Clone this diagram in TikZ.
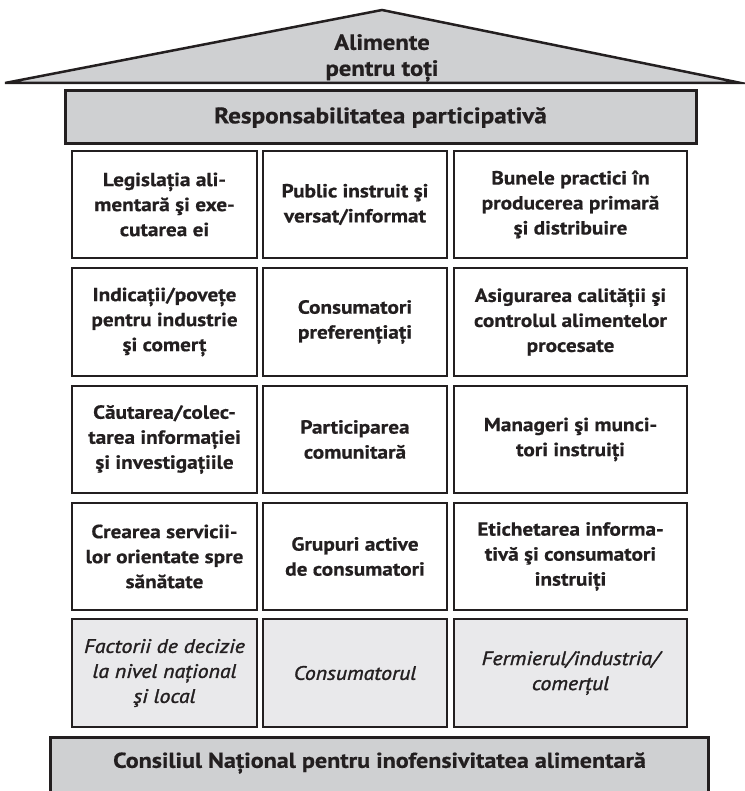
\documentclass[tikz,border=0pt]{standalone}
\usepackage{fontspec}
\setmainfont{PT Sans}[FakeStretch=1.12, BoldFeatures={FakeBold=0.6}]
\newfontfamily\semiit{PT Sans Italic}[FakeStretch=1.12, FakeBold=1.5]
\begin{document}
\begin{tikzpicture}[x=1pt,y=-1pt,
  cell/.style={draw=inkc, line width=1.2pt, fill=white, align=center, inner sep=0pt,
     font=\fontsize{19}{25}\selectfont\bfseries, text=inkc},
  cellb/.style={cell, fill=lightg, font=\fontsize{19.5}{25}\semiit},
  band/.style={draw=inkc, line width=3pt, fill=midg, inner sep=0pt, text=inkc,
     font=\fontsize{22.5}{26}\selectfont\bfseries}
]
\definecolor{inkc}{HTML}{231F20}
\definecolor{midg}{HTML}{CFD0D2}
\definecolor{lightg}{HTML}{E9E9EB}
\useasboundingbox (0,0) rectangle (744,791);
% roof
\draw[draw=inkc, fill=midg, line width=2.5pt, line join=miter] (5,83) -- (382,10) -- (741,83) -- cycle;
\node[align=center, text=inkc, font=\fontsize{22}{26}\selectfont\bfseries] (roof) at (382,58) {Alimente\\pentru toți};
% top band
\node[band, minimum width=631, minimum height=53] (resp) at (380.5,117.5) {Responsabilitatea participativă};
% grid
\node[cell, minimum width=185, minimum height=107] (a1) at (164.5,204.5) {Legislația ali-\\mentară şi exe-\\cutarea ei};
\node[cell, minimum width=184, minimum height=107] (b1) at (355,204.5) {Public instruit şi\\versat/informat};
\node[cell, minimum width=233, minimum height=107] (c1) at (570.5,204.5) {Bunele practici în\\producerea primară\\şi distribuire};
\node[cell, minimum width=185, minimum height=108] (a2) at (164.5,322) {Indicații/povețe\\pentru industrie\\şi comerț};
\node[cell, minimum width=184, minimum height=108] (b2) at (355,322) {Consumatori\\preferențiați};
\node[cell, minimum width=233, minimum height=108] (c2) at (570.5,322) {Asigurarea calității şi\\controlul alimentelor\\procesate};
\node[cell, minimum width=185, minimum height=107] (a3) at (164.5,439.5) {Căutarea/colec-\\tarea informației\\şi investigațiile};
\node[cell, minimum width=184, minimum height=107] (b3) at (355,439.5) {Participarea\\comunitară};
\node[cell, minimum width=233, minimum height=107] (c3) at (570.5,439.5) {Manageri şi munci-\\tori instruiți};
\node[cell, minimum width=185, minimum height=107] (a4) at (164.5,556.5) {Crearea servicii-\\lor orientate spre\\sănătate};
\node[cell, minimum width=184, minimum height=107] (b4) at (355,556.5) {Grupuri active\\de consumatori};
\node[cell, minimum width=233, minimum height=107] (c4) at (570.5,556.5) {Etichetarea informa-\\tivă şi consumatori\\instruiți};
\node[cellb, minimum width=185, minimum height=108] (a5) at (164.5,673) {Factorii de decizie\\la nivel național\\şi local};
\node[cellb, minimum width=184, minimum height=108] (b5) at (355,673) {Consumatorul};
\node[cellb, minimum width=233, minimum height=108] (c5) at (570.5,673) {Fermierul/industria/\\comerțul};
% bottom band
\draw[draw=inkc, fill=midg, line width=3pt] (50.5,737) rectangle (708.5,800);
\node[text=inkc, font=\fontsize{21.5}{25}\selectfont\bfseries] (cons) at (379.5,763) {Consiliul Național pentru inofensivitatea alimentară};
\end{tikzpicture}
\end{document}
